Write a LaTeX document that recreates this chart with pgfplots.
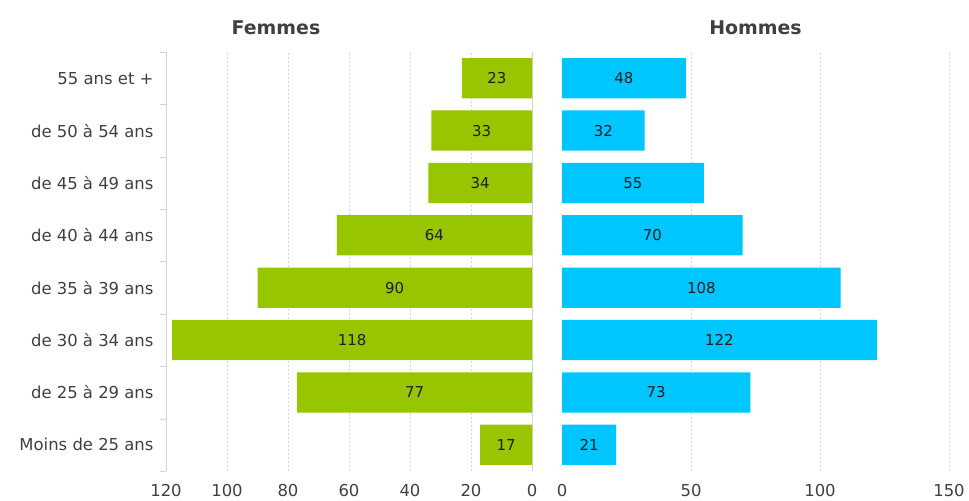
\documentclass[border=0pt]{standalone}
\usepackage{fontspec}
\setmainfont{DejaVu Sans}
\usepackage{pgfplots}
\usepackage{pgfplotstable}
\pgfplotsset{compat=1.18}

\definecolor{fgreen}{RGB}{151,197,0}
\definecolor{hblue}{RGB}{0,198,255}
\definecolor{gridc}{RGB}{212,212,212}
\definecolor{txt}{RGB}{64,64,64}
\definecolor{lbl}{RGB}{30,30,30}

% y: 0 = bottom row
\pgfplotstableread{
y f h
0 17 21
1 77 73
2 118 122
3 90 108
4 64 70
5 34 55
6 33 32
7 23 48
}\pyr

\pgfplotsset{pyr/.style={
  scale only axis, height=419bp,
  ymin=-0.5, ymax=7.5,
  axis line style={draw=none},
  major tick length=0pt,
  xmajorgrids, grid style={gridc, dash pattern=on 2bp off 2bp},
  ticklabel style={font=\fontsize{16.5}{18}\selectfont, text=txt},
  xticklabel style={yshift=-10bp},
  /pgf/number format/assume math mode=true,
  title style={font=\fontsize{19}{22}\selectfont\bfseries, text=txt,
    at={(0.5,1)}, anchor=center, yshift=18bp},
  clip=false,
}}

\begin{document}
\begin{tikzpicture}
\path[use as bounding box] (0,0) rectangle (969bp,501bp);

% Femmes
\begin{axis}[pyr,
  at={(166bp,30bp)}, anchor=south west, width=366bp,
  xmin=-120, xmax=0,
  xtick={-120,-100,...,0}, xticklabels={120,100,80,60,40,20,0},
  ytick={0,...,7},
  yticklabels={Moins de 25 ans,de 25 à 29 ans,de 30 à 34 ans,de 35 à 39 ans,de 40 à 44 ans,de 45 à 49 ans,de 50 à 54 ans,55 ans et +},
  yticklabel style={xshift=-9bp},
  minor ytick={-0.5,0.5,...,7.5}, minor tick length=6bp,
  ytick pos=left, tick align=outside, minor tick style={gridc},
  title=Femmes, title style={xshift=-73bp},
]
\draw[gridc] (axis cs:-120,-0.5) -- (axis cs:-120,7.5);
\draw[gridc] (axis cs:0,-0.5) -- (axis cs:0,7.5);
\addplot[xbar, bar width=0.77, fill=fgreen, draw=none] table[x expr=-\thisrow{f}, y=y] {\pyr};
\addplot[draw=none, mark=none,
  nodes near coords, point meta=explicit,
  nodes near coords style={anchor=center, font=\fontsize{15}{17}\selectfont, text=lbl}]
  table[x expr=-\thisrow{f}/2, y=y, meta=f] {\pyr};
\end{axis}

% Hommes
\begin{axis}[pyr,
  at={(562bp,30bp)}, anchor=south west, width=387bp,
  xmin=0, xmax=150,
  xtick={50,100,150},
  extra x ticks={0}, extra x tick style={grid=none},
  ytick=\empty,
  title=Hommes,
]
\addplot[xbar, bar width=0.77, fill=hblue, draw=none] table[x=h, y=y] {\pyr};
\addplot[draw=none, mark=none,
  nodes near coords, point meta=explicit,
  nodes near coords style={anchor=center, font=\fontsize{15}{17}\selectfont, text=lbl}]
  table[x expr=\thisrow{h}/2, y=y, meta=h] {\pyr};
\end{axis}
\end{tikzpicture}
\end{document}
